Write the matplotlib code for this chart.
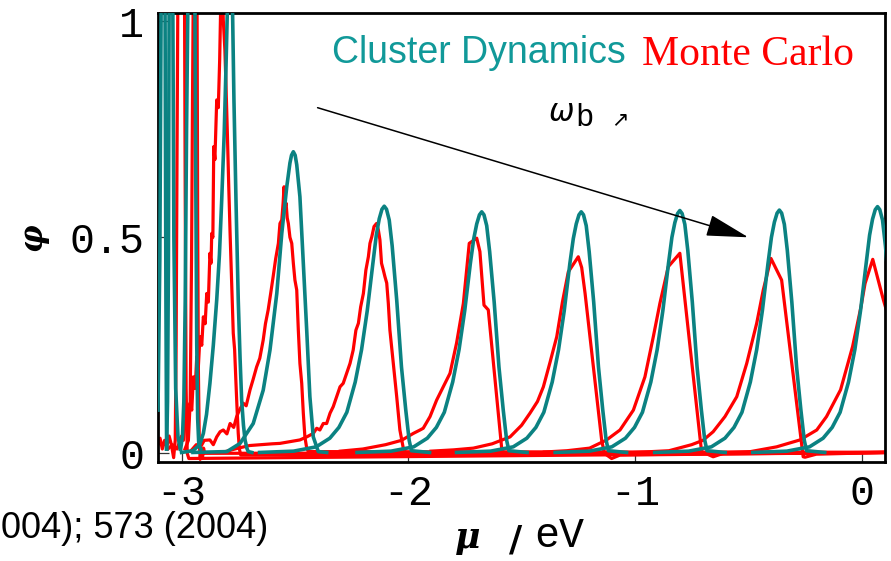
import matplotlib
matplotlib.use("Agg")
import matplotlib.pyplot as plt
from matplotlib.patches import ArrowStyle

# ---------------- data ----------------
# Cluster Dynamics curves (teal)
cd_a_x = [-3.104, -3.096, -3.090, -3.084, -3.078, -3.073, -3.069, -3.066]
cd_a_y = [0.10, 0.45, 1.05, 1.50, 1.60, 1.05, 0.35, 0.01]
cd_b_x = [-3.066, -3.062, -3.058, -3.055, -3.050, -3.045, -3.040, -3.034, -3.026, -3.016, -3.006]
cd_b_y = [0.01, 0.12, 0.45, 1.02, 1.45, 1.60, 1.20, 0.50, 0.15, 0.04, 0.01]
cd_c_x = [-3.004, -2.996, -2.990, -2.984, -2.978, -2.970, -2.956, -2.942, -2.937, -2.933, -2.929, -2.924, -2.915]
cd_c_y = [0.01, 0.04, 0.12, 0.35, 0.75, 1.15, 1.55, 1.15, 0.60, 0.25, 0.08, 0.02, 0.01]
cd_d_x = [-3.00, -2.95, -2.92, -2.904, -2.89, -2.875, -2.86, -2.845, -2.833, -2.823, -2.812,
          -2.804, -2.797, -2.790, -2.782, -2.775, -2.769, -2.760, -2.750, -2.742, -2.735,
          -2.727, -2.720, -2.712, -2.706, -2.690]
cd_d_y = [0.002, 0.006, 0.02, 0.046, 0.09, 0.162, 0.25, 0.355, 0.46, 0.586, 0.74,
          0.895, 1.05, 1.20, 1.10, 1.02, 0.818, 0.586, 0.355, 0.22, 0.123,
          0.065, 0.031, 0.012, 0.004, 0.002]
cd_e_x = [-2.95, -2.80, -2.742, -2.684, -2.64, -2.61, -2.58, -2.558, -2.536, -2.522, -2.515, -2.507,
          -2.499, -2.492, -2.478, -2.463, -2.448, -2.434, -2.419, -2.397, -2.36]
cd_e_y = [0.002, 0.004, 0.023, 0.069, 0.146, 0.239, 0.37, 0.509, 0.617, 0.672, 0.690, 0.698,
          0.690, 0.668, 0.594, 0.44, 0.285, 0.131, 0.038, 0.004, 0.002]
cd_f_x = [-2.656, -2.506, -2.406, -2.346, -2.306, -2.271, -2.234, -2.206, -2.181, -2.156, -2.141, -2.128,
          -2.116, -2.106, -2.096, -2.084, -2.071, -2.051, -2.030, -2.011, -1.996, -1.986, -1.906]
cd_f_y = [0.002, 0.005, 0.015, 0.035, 0.06, 0.095, 0.165, 0.24, 0.33, 0.44, 0.505, 0.543,
          0.565, 0.572, 0.565, 0.54, 0.48, 0.355, 0.20, 0.10, 0.03, 0.006, 0.002]
cd_g_x = [-2.226, -2.076, -1.976, -1.916, -1.876, -1.841, -1.804, -1.776, -1.751, -1.726, -1.711, -1.698,
          -1.686, -1.676, -1.666, -1.654, -1.641, -1.621, -1.600, -1.581, -1.566, -1.556, -1.476]
cd_g_y = [0.002, 0.005, 0.015, 0.035, 0.06, 0.095, 0.165, 0.24, 0.33, 0.44, 0.497, 0.531,
          0.552, 0.559, 0.552, 0.527, 0.467, 0.35, 0.20, 0.10, 0.03, 0.006, 0.002]
cd_h_x = [-1.787, -1.637, -1.537, -1.477, -1.437, -1.402, -1.365, -1.337, -1.312, -1.287, -1.272, -1.259,
          -1.247, -1.237, -1.227, -1.215, -1.202, -1.182, -1.161, -1.142, -1.127, -1.117, -1.037]
cd_h_y = [0.002, 0.005, 0.015, 0.035, 0.06, 0.095, 0.165, 0.24, 0.33, 0.44, 0.497, 0.531,
          0.552, 0.559, 0.552, 0.527, 0.467, 0.35, 0.20, 0.10, 0.03, 0.006, 0.002]
cd_i_x = [-1.352, -1.202, -1.102, -1.042, -1.002, -0.967, -0.930, -0.902, -0.877, -0.852, -0.837, -0.824,
          -0.812, -0.802, -0.792, -0.780, -0.767, -0.747, -0.726, -0.707, -0.692, -0.682, -0.602]
cd_i_y = [0.002, 0.005, 0.015, 0.035, 0.06, 0.095, 0.165, 0.24, 0.33, 0.44, 0.50, 0.534,
          0.555, 0.562, 0.555, 0.53, 0.47, 0.35, 0.20, 0.10, 0.03, 0.006, 0.002]
cd_j_x = [-0.913, -0.763, -0.663, -0.603, -0.563, -0.528, -0.491, -0.463, -0.438, -0.413, -0.398, -0.385,
          -0.373, -0.363, -0.353, -0.341, -0.328, -0.308, -0.287, -0.268, -0.253, -0.243, -0.163]
cd_j_y = [0.002, 0.005, 0.015, 0.035, 0.06, 0.095, 0.165, 0.24, 0.33, 0.44, 0.50, 0.535,
          0.556, 0.563, 0.556, 0.53, 0.47, 0.35, 0.20, 0.10, 0.03, 0.006, 0.002]
cd_k_x = [-0.480, -0.330, -0.230, -0.170, -0.130, -0.095, -0.058, -0.030, -0.005, 0.020, 0.035, 0.048,
          0.060, 0.070, 0.080, 0.092, 0.105, 0.125]
cd_k_y = [0.002, 0.005, 0.015, 0.035, 0.06, 0.095, 0.165, 0.24, 0.33, 0.44, 0.505, 0.542,
          0.564, 0.571, 0.564, 0.54, 0.48, 0.355]

# Monte Carlo curves (red)
mc_a_x = [-3.104, -3.095, -3.085, -3.075, -3.065, -3.055, -3.045, -3.035, -3.028, -3.024, -3.020,
          -3.015, -3.002, -2.988, -2.984, -2.980, -2.975, -2.968, 0.10]
mc_a_y = [0.02, 0.035, 0.01, 0.03, 0.015, 0.04, 0.02, -0.01, 0.03, 0.25, 0.70,
          1.20, 1.50, 1.20, 0.60, 0.15, 0.0, -0.012, 0.002]
mc_b_x = [-2.985, -2.970, -2.962, -2.956, -2.952, -2.948, -2.940, -2.932, -2.929, -2.926, -2.922,
          -2.918, -2.913, -2.908, -2.903, -2.898, 0.10]
mc_b_y = [0.01, 0.03, 0.12, 0.45, 0.80, 1.10, 1.40, 1.10, 0.55, 0.20, 0.03,
          -0.014, 0.01, -0.012, 0.012, 0.0, 0.002]
mc_c_x = [-3.06, -3.04, -3.02, -3.00, -2.992, -2.985, -2.978, -2.970, -2.963, -2.955, -2.948,
          -2.940, -2.933, -2.926, -2.919, -2.911, -2.904, -2.896, -2.889, -2.882, -2.875,
          -2.870, -2.867, -2.862, -2.858, -2.853, -2.845, -2.838, -2.832, -2.828, -2.822,
          -2.816, -2.809, -2.804, -2.798, -2.792, -2.786, -2.779, -2.772, -2.766, -2.760,
          -2.755, -2.750, -2.745, -2.739, 0.10]
mc_c_y = [0.01, 0.02, 0.01, 0.04, 0.03, 0.07, 0.085, 0.07, 0.116, 0.10, 0.177,
          0.15, 0.224, 0.20, 0.27, 0.25, 0.316, 0.30, 0.37, 0.35, 0.463,
          0.44, 0.509, 0.50, 0.71, 0.68, 0.818, 0.80, 0.91, 1.02, 1.15,
          1.003, 0.934, 0.85, 0.741, 0.62, 0.509, 0.394, 0.278, 0.24, 0.162,
          0.10, 0.046, 0.01, -0.004, 0.002]
mc_d_x = [-2.96, -2.935, -2.919, -2.90, -2.875, -2.86, -2.845, -2.83, -2.816, -2.80, -2.786,
          -2.77, -2.757, -2.745, -2.728, -2.715, -2.698, -2.685, -2.669, -2.655, -2.64,
          -2.63, -2.618, -2.607, -2.596, -2.585, -2.573, -2.566, -2.558, -2.552, -2.548,
          -2.543, -2.539, -2.534, -2.529, -2.522, -2.514, -2.507, -2.500, -2.492, -2.485,
          -2.478, -2.470, -2.463, -2.456, -2.448, -2.441, 0.10]
mc_d_y = [0.005, 0.02, 0.012, 0.03, 0.031, 0.02, 0.038, 0.05, 0.054, 0.045, 0.069,
          0.06, 0.085, 0.10, 0.116, 0.11, 0.147, 0.17, 0.20, 0.22, 0.262,
          0.30, 0.332, 0.37, 0.409, 0.45, 0.486, 0.532, 0.54, 0.58, 0.617,
          0.57, 0.579, 0.545, 0.532, 0.50, 0.486, 0.44, 0.401, 0.378, 0.285,
          0.208, 0.162, 0.093, 0.038, 0.012, 0.004, 0.002]
mc_e_x = [-2.80, -2.75, -2.70, -2.65, -2.60, -2.566, -2.522, -2.478, -2.448, -2.419, -2.404,
          -2.39, -2.375, -2.36, -2.345, -2.331, -2.316, -2.301, -2.287, -2.272, -2.257,
          -2.243, -2.231, -2.22, -2.21, -2.198, -2.187, -2.176, -2.169, -2.161, -2.151,
          -2.14, -2.132, -2.125, -2.118, -2.11, -2.103, -2.095, -2.088, -2.081, -2.066,
          -2.051, -2.037, -2.022, -2.007, 0.10]
mc_e_y = [0.005, 0.012, 0.018, 0.02, 0.022, 0.023, 0.027, 0.031, 0.038, 0.046, 0.058,
          0.054, 0.069, 0.069, 0.093, 0.108, 0.131, 0.154, 0.162, 0.185, 0.208,
          0.239, 0.285, 0.301, 0.339, 0.37, 0.424, 0.455, 0.486, 0.501, 0.525,
          0.532, 0.517, 0.494, 0.44, 0.424, 0.409, 0.394, 0.347, 0.285, 0.208,
          0.131, 0.054, 0.012, -0.003, 0.002]
mc_f_x = [-2.30, -2.20, -2.10, -2.03, -1.978, -1.948, -1.934, -1.904, -1.875, -1.838, -1.816,
          -1.787, -1.757, -1.731, -1.698, -1.684, -1.666, -1.647, -1.588, -1.580, 0.10]
mc_f_y = [0.005, 0.01, 0.02, 0.03, 0.046, 0.054, 0.058, 0.085, 0.123, 0.162, 0.185,
          0.255, 0.347, 0.486, 0.498, 0.467, 0.343, 0.332, 0.012, 0.002, 0.002]
mc_g_x = [-1.90, -1.80, -1.713, -1.63, -1.551, -1.50, -1.463, -1.43, -1.404, -1.375, -1.345,
          -1.32, -1.294, -1.25, -1.235, -1.22, -1.147, -1.135, -1.103, -1.066, 0.10]
mc_g_y = [0.005, 0.008, 0.012, 0.022, 0.038, 0.065, 0.093, 0.12, 0.154, 0.21, 0.27,
          0.35, 0.420, 0.455, 0.43, 0.37, 0.031, 0.0, -0.012, -0.004, 0.002]
mc_h_x = [-1.40, -1.30, -1.20, -1.125, -1.066, -1.007, -0.956, -0.919, -0.890, -0.853, -0.802,
          -0.712, -0.706, -0.655, -0.610, 0.10]
mc_h_y = [0.003, 0.006, 0.012, 0.031, 0.054, 0.10, 0.177, 0.27, 0.347, 0.432, 0.463,
          0.031, 0.004, -0.008, 0.0, 0.002]
mc_i_x = [-1.00, -0.85, -0.75, -0.70, -0.655, -0.603, -0.551, -0.507, -0.463, -0.434, -0.400,
          -0.353, -0.258, -0.250, -0.200, 0.10]
mc_i_y = [0.002, 0.006, 0.02, 0.03, 0.05, 0.085, 0.131, 0.208, 0.301, 0.378, 0.451,
          0.401, -0.008, -0.009, -0.002, 0.002]
mc_j_x = [-0.60, -0.49, -0.375, -0.272, -0.198, -0.155, -0.093, -0.040, -0.003, 0.015, 0.049,
          0.096, 0.110]
mc_j_y = [0.002, 0.004, 0.015, 0.031, 0.054, 0.085, 0.147, 0.247, 0.339, 0.393, 0.449,
          0.355, 0.33]

cd_curves = [(cd_a_x, cd_a_y), (cd_b_x, cd_b_y), (cd_c_x, cd_c_y), (cd_d_x, cd_d_y),
             (cd_e_x, cd_e_y), (cd_f_x, cd_f_y), (cd_g_x, cd_g_y), (cd_h_x, cd_h_y),
             (cd_i_x, cd_i_y), (cd_j_x, cd_j_y), (cd_k_x, cd_k_y)]
mc_curves = [(mc_a_x, mc_a_y), (mc_b_x, mc_b_y), (mc_c_x, mc_c_y), (mc_d_x, mc_d_y),
             (mc_e_x, mc_e_y), (mc_f_x, mc_f_y), (mc_g_x, mc_g_y), (mc_h_x, mc_h_y),
             (mc_i_x, mc_i_y), (mc_j_x, mc_j_y)]

x_ticks = [-3, -2, -1, 0]
x_tick_labels = ["-3", "-2", "-1", "0"]
y_ticks = [0, 0.5, 1]
y_tick_labels = ["0", "0.5", "1"]

TEAL = "#0b8282"
TEAL_TEXT = "#119999"
RED = "#ff0000"
MONO = ["Liberation Mono", "DejaVu Sans Mono"]

W, H = 891, 561
fig = plt.figure(figsize=(W / 100, H / 100), dpi=100)
ax = fig.add_axes([158 / W, 1 - 461.7 / H, (885 - 158) / W, (461.7 - 13.3) / H])

for xs, ys in mc_curves:
    ax.plot(xs, ys, color=RED, lw=2.3, solid_joinstyle="round", zorder=2)
for xs, ys in cd_curves:
    ax.plot(xs, ys, color=TEAL, lw=2.6, solid_joinstyle="round", zorder=3)

ax.set_xlim(-3.104, 0.103)
ax.set_ylim(-0.0194, 1.0185)
ax.set_xticks(x_ticks)
ax.set_xticklabels(x_tick_labels)
ax.set_yticks(y_ticks)
ax.set_yticklabels(y_tick_labels)
ax.tick_params(direction="in", length=8, width=0.9, color="#333333",
               labelsize=30, pad=10)
ax.tick_params(axis="x", pad=9)
for lab in ax.get_xticklabels() + ax.get_yticklabels():
    lab.set_family(MONO)
for sp in ax.spines.values():
    sp.set_linewidth(2.0)

# arrow
ax.annotate("", xy=(-0.50, 0.50), xytext=(-2.40, 0.80),
            arrowprops=dict(arrowstyle=ArrowStyle("-|>", head_length=1.33, head_width=0.34),
                            mutation_scale=20, color="black", lw=1.1,
                            shrinkA=0, shrinkB=0), zorder=5)

def px(x, y):
    return x / W, 1 - y / H

fig.text(*px(332, 63.3), "Cluster Dynamics", color=TEAL_TEXT, fontsize=27,
         family="Liberation Sans", ha="left", va="baseline")
fig.text(*px(641.5, 65), "Monte Carlo", color=RED, fontsize=30,
         family="Liberation Serif", ha="left", va="baseline")
fig.text(*px(548, 121), r"$\omega$", fontsize=22, ha="left", va="baseline")
fig.text(*px(575, 126), "b", fontsize=22, family=MONO, ha="left", va="baseline")
fig.text(*px(611, 125), "\u2197", fontsize=15, family="DejaVu Sans", ha="left", va="baseline")

# axis labels
fig.text(*px(33, 237), "\u03c6", fontsize=22, family="DejaVu Serif", fontweight="bold",
         style="italic", rotation=90, ha="center", va="center")
fig.text(*px(455, 548), "\u03bc", fontsize=25, family="DejaVu Serif", fontweight="bold",
         style="italic", ha="left", va="baseline")
fig.text(*px(509, 550), "/", fontsize=26, family="DejaVu Sans", fontweight="bold",
         ha="left", va="baseline")
fig.text(*px(534, 547), "eV", fontsize=30, family=MONO, ha="left", va="baseline")

# citation text fragment at lower left (as visible in the reference)
fig.text(*px(268, 538), "004); 573 (2004)", fontsize=26, family="Liberation Sans",
         ha="right", va="baseline")

fig.savefig("out.png", dpi=100)
